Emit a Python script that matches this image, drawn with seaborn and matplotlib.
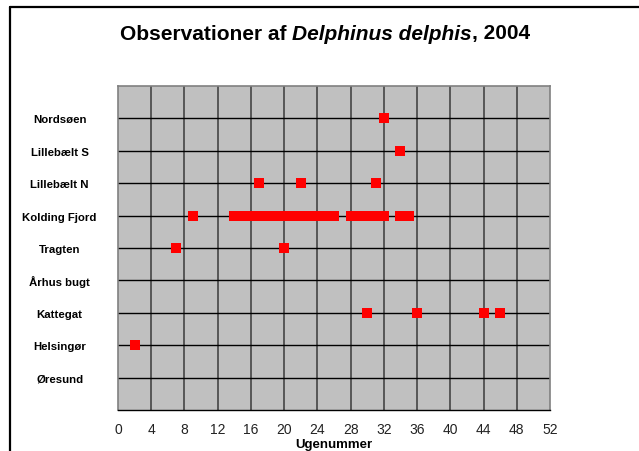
import matplotlib
matplotlib.use("Agg")
import matplotlib.pyplot as plt
import matplotlib.lines as mlines
import pandas as pd
import seaborn as sns

# categories bottom -> top
locations = ["Øresund", "Helsingør", "Kattegat", "Århus bugt", "Tragten",
             "Kolding Fjord", "Lillebælt N", "Lillebælt S", "Nordsøen"]

# observation weeks per location
weeks_nordsoen = [32]
weeks_lillebaelt_s = [34]
weeks_lillebaelt_n = [17, 22, 31]
weeks_kolding = [9, 14, 15, 16, 17, 18, 19, 20, 21, 22, 23, 24, 25, 26,
                 28, 29, 30, 31, 32, 34, 35]
weeks_tragten = [7, 20]
weeks_aarhus = []
weeks_kattegat = [30, 36, 44, 46]
weeks_helsingor = [2]
weeks_oresund = []

obs = {
    "Nordsøen": weeks_nordsoen,
    "Lillebælt S": weeks_lillebaelt_s,
    "Lillebælt N": weeks_lillebaelt_n,
    "Kolding Fjord": weeks_kolding,
    "Tragten": weeks_tragten,
    "Århus bugt": weeks_aarhus,
    "Kattegat": weeks_kattegat,
    "Helsingør": weeks_helsingor,
    "Øresund": weeks_oresund,
}

rows = []
for loc, wks in obs.items():
    for w in wks:
        rows.append({"uge": w, "sted": loc, "pos": locations.index(loc) + 1})
df = pd.DataFrame(rows)

sns.set_style("white")
plt.rcParams["font.family"] = ["Liberation Sans", "DejaVu Sans"]
plt.rcParams["text.color"] = "black"
plt.rcParams["axes.labelcolor"] = "black"
plt.rcParams["ytick.color"] = "black"
plt.rcParams["xtick.color"] = "black"

fig = plt.figure(figsize=(6.39, 4.52), dpi=100)
ax = fig.add_axes([118 / 639, 1 - 411 / 452, 432 / 639, 324 / 452])
ax.set_facecolor("#C0C0C0")

# grid
for x in range(4, 52, 4):
    ax.axvline(x, color="#3a3a3a", lw=1.1, zorder=1)
for y in range(1, 10):
    ax.axhline(y, color="black", lw=1.0, zorder=1)

sns.scatterplot(data=df, x="uge", y="pos", marker="s", color="#FF0000",
                s=44, linewidth=0, ax=ax, zorder=3, legend=False)

ax.set_xlim(0, 52)
ax.set_ylim(0, 10)
ax.set_xticks(range(0, 53, 4))
ax.set_xticklabels([str(v) for v in range(0, 53, 4)], fontsize=10, color="#222222")
ax.set_yticks(range(1, 10))
ax.set_yticklabels(locations, fontsize=8.2, fontweight="bold", ha="center", color="black")
ax.tick_params(axis="y", length=0, pad=42)
ax.tick_params(axis="x", length=5, width=1, color="black", direction="out", pad=4)

for side in ["top", "right", "left"]:
    ax.spines[side].set_color("#808080")
    ax.spines[side].set_linewidth(1.2)
ax.spines["bottom"].set_color("black")
ax.spines["bottom"].set_linewidth(1.0)

ax.set_xlabel("Ugenummer", fontsize=9.5, fontweight="bold", labelpad=1, color="black")
ax.set_ylabel("")

# title in three pieces (italic species name)
fig.canvas.draw()
renderer = fig.canvas.get_renderer()
parts = [("Observationer af ", "normal"), ("Delphinus delphis", "italic"), (", 2004", "normal")]
texts = []
for s, st in parts:
    t = fig.text(0, 1 - 34 / 452, s, fontsize=15, fontweight="bold",
                 style=st, va="center", ha="left", color="black")
    texts.append(t)
widths = [t.get_window_extent(renderer).width for t in texts]
total = sum(widths)
x0 = 325 - total / 2
for t, w in zip(texts, widths):
    t.set_x(x0 / 639)
    x0 += w

# outer frame (left and top edges)
fig.add_artist(mlines.Line2D([10 / 639, 10 / 639], [0, 1 - 8 / 452],
                             color="black", lw=1.6, transform=fig.transFigure))
fig.add_artist(mlines.Line2D([10 / 639, 1], [1 - 8 / 452, 1 - 8 / 452],
                             color="black", lw=1.6, transform=fig.transFigure))

fig.savefig("out.png", dpi=100)
